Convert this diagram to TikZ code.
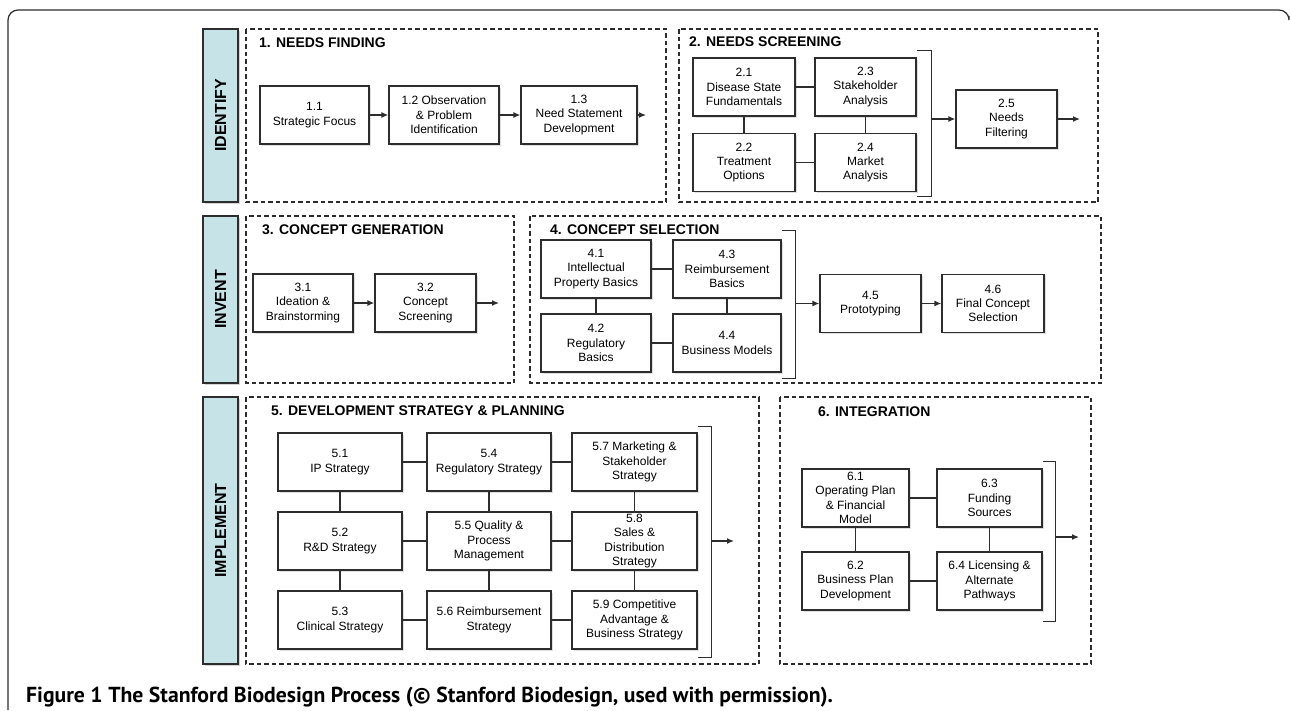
\documentclass[tikz,border=0pt]{standalone}
\usepackage{fontspec}
\setmainfont{Liberation Sans}
\newfontfamily\capfont{PT Sans}
\usetikzlibrary{arrows.meta,positioning,shapes,shadows}

\definecolor{barblue}{RGB}{198,228,232}
\definecolor{edgegray}{RGB}{45,45,45}

\begin{document}
\begin{tikzpicture}[x = 1pt, y = -1pt,
  stepbox/.style = {draw = edgegray, line width = 1.3pt, fill = white, align = center,
    inner sep = 0pt, minimum height = 58pt, font = \fontsize{12}{14.3}\selectfont,
    drop shadow = {shadow xshift = 1.5pt, shadow yshift = -1.5pt, opacity = .25}},
  phasebar/.style = {draw = edgegray, line width = 1.3pt, fill = barblue, rotate = 90,
    inner sep = 0pt, minimum height = 35pt, font = \fontsize{16}{18}\bfseries,
    drop shadow = {shadow xshift = 1.5pt, shadow yshift = -1.5pt, opacity = .35}},
  stage/.style = {draw = edgegray, line width = 1.2pt, dash pattern = on 4.5pt off 3pt},
  stagetitle/.style = {anchor = west, inner sep = 0pt, font = \fontsize{14}{16}\bfseries},
  link/.style = {draw = edgegray, line width = 1.3pt},
  flow/.style = {link, -{Latex[length = 7pt, width = 6pt]}}]
\useasboundingbox (0,0) rectangle (1290,710);
% outer frame
\draw[edgegray, line width = 1.2pt, rounded corners = 10pt] (8,710) -- (8,10) -- (1289,10) -- (1289,16);

% phase bars
\node[phasebar, minimum width = 173pt] (identify) at (220.5,115.5) {IDENTIFY};
\node[phasebar, minimum width = 167pt] (invent) at (220.5,299.5) {INVENT};
\node[phasebar, minimum width = 267pt] (implement) at (220.5,530.5) {IMPLEMENT};

% stage frames
\draw[stage] (246,29) rectangle (666,202);
\draw[stage] (679,29) rectangle (1098,202);
\draw[stage] (246,216) rectangle (514,383);
\draw[stage] (530,216) rectangle (1101,383);
\draw[stage] (246,397) rectangle (759,664);
\draw[stage] (780,397) rectangle (1091,664);

\node[stagetitle] (t1) at (259,43) {1. NEEDS FINDING};
\node[stagetitle] (t2) at (689,42) {2. NEEDS SCREENING};
\node[stagetitle] (t3) at (262,230) {3. CONCEPT GENERATION};
\node[stagetitle] (t4) at (550,230) {4. CONCEPT SELECTION};
\node[stagetitle] (t5) at (271,411) {5. DEVELOPMENT STRATEGY \& PLANNING};
\node[stagetitle] (t6) at (818,412) {6. INTEGRATION};

% 1. needs finding
\node[stepbox, minimum width = 109pt] (n11) at (314.5,115) {1.1\\Strategic Focus};
\node[stepbox, minimum width = 110pt] (n12) at (444,115) {1.2 Observation\\\& Problem\\Identification};
\node[stepbox, minimum width = 116pt] (n13) at (579,115) {1.3\\Need Statement\\Development};
\coordinate (o1) at (646,115);
\draw[flow] (n11) -- (n12);
\draw[flow] (n12) -- (n13);
\draw[flow] (n13) -- (o1);

% 2. needs screening
\node[stepbox, minimum width = 102pt] (n21) at (744,87) {2.1\\Disease State\\Fundamentals};
\node[stepbox, minimum width = 102pt] (n22) at (744,162.5) {2.2\\Treatment\\Options};
\node[stepbox, minimum width = 101pt] (n23) at (865.5,87) {2.3\\Stakeholder\\Analysis};
\node[stepbox, minimum width = 101pt] (n24) at (865.5,162.5) {2.4\\Market\\Analysis};
\node[stepbox, minimum width = 101pt] (n25) at (1006.5,119) {2.5\\Needs\\Filtering};
\coordinate (o2) at (1080,119);
\draw[link] (n21) -- (n23);
\draw[link] (n22) -- (n24);
\draw[link] (n21) -- (n22);
\draw[link] (n23) -- (n24);
\draw[link] ([yshift = 7pt]n23.north east) -- ++(15pt,0) coordinate (b2) |- ([yshift = -4pt]n24.south east);
\draw[flow] (b2 |- n25) -- (n25);
\draw[flow] (n25) -- (o2);

% 3. concept generation
\node[stepbox, minimum width = 100pt] (n31) at (303,303) {3.1\\Ideation \&\\Brainstorming};
\node[stepbox, minimum width = 101pt] (n32) at (425.5,303) {3.2\\Concept\\Screening};
\coordinate (o3) at (499,303);
\draw[flow] (n31) -- (n32);
\draw[flow] (n32) -- (o3);

% 4. concept selection
\node[stepbox, minimum width = 110pt] (n41) at (596,269) {4.1\\Intellectual\\Property Basics};
\node[stepbox, minimum width = 110pt] (n42) at (596,343) {4.2\\Regulatory\\Basics};
\node[stepbox, minimum width = 108pt] (n43) at (727,269) {4.3\\Reimbursement\\Basics};
\node[stepbox, minimum width = 108pt] (n44) at (727,343) {4.4\\Business Models};
\node[stepbox, minimum width = 101pt] (n45) at (870.5,303.5) {4.5\\Prototyping};
\node[stepbox, minimum width = 102pt] (n46) at (993,303.5) {4.6\\Final Concept\\Selection};
\draw[link] (n41) -- (n43);
\draw[link] (n42) -- (n44);
\draw[link] (n41) -- (n42);
\draw[link] (n43) -- (n44);
\draw[link] ([yshift = 9pt]n43.north east) -- ++(14pt,0) coordinate (b4) |- ([yshift = -6pt]n44.south east);
\draw[flow] (b4 |- n45) -- (n45);
\draw[flow] (n45) -- (n46);

% 5. development strategy & planning
\node[stepbox, minimum width = 124pt] (n51) at (340,462) {5.1\\IP Strategy};
\node[stepbox, minimum width = 124pt] (n52) at (340,541) {5.2\\R\&D Strategy};
\node[stepbox, minimum width = 124pt] (n53) at (340,620) {5.3\\Clinical Strategy};
\node[stepbox, minimum width = 124pt] (n54) at (489,462) {5.4\\Regulatory Strategy};
\node[stepbox, minimum width = 124pt] (n55) at (489,541) {5.5 Quality \&\\Process\\Management};
\node[stepbox, minimum width = 124pt] (n56) at (489,620) {5.6 Reimbursement\\Strategy};
\node[stepbox, minimum width = 125pt] (n57) at (634.5,462) {5.7 Marketing \&\\Stakeholder\\Strategy};
\node[stepbox, minimum width = 125pt] (n58) at (634.5,541) {5.8\\Sales \&\\Distribution\\Strategy};
\node[stepbox, minimum width = 125pt] (n59) at (634.5,620) {5.9 Competitive\\Advantage \&\\Business Strategy};
\foreach \a/\b in {n51/n54, n54/n57, n52/n55, n55/n58, n53/n56, n56/n59,
                   n51/n52, n52/n53, n54/n55, n55/n56, n57/n58, n58/n59}
  \draw[link] (\a) -- (\b);
\draw[link] ([yshift = 6pt]n57.north east) -- ++(14pt,0) coordinate (b5) |- ([yshift = -8pt]n59.south east);
\coordinate (o5) at (734,541);
\draw[flow] (b5 |- o5) -- (o5);

% 6. integration
\node[stepbox, minimum width = 107pt] (n61) at (855.5,498) {6.1\\Operating Plan\\\& Financial\\Model};
\node[stepbox, minimum width = 107pt] (n62) at (855.5,581) {6.2\\Business Plan\\Development};
\node[stepbox, minimum width = 105pt] (n63) at (989.5,498) {6.3\\Funding\\Sources};
\node[stepbox, minimum width = 105pt] (n64) at (989.5,581) {6.4 Licensing \&\\Alternate\\Pathways};
\draw[link] (n61) -- (n63);
\draw[link] (n62) -- (n64);
\draw[link] (n61) -- (n62);
\draw[link] (n63) -- (n64);
\draw[link] ([yshift = 7pt]n63.north east) -- ++(13pt,0) coordinate (b6) |- ([yshift = -11pt]n64.south east);
\coordinate (o6) at (1079,537);
\draw[flow] (b6 |- o6) -- (o6);

% caption
\node[anchor = base west, inner sep = 0pt, font = \capfont\fontsize{21.7}{25}\selectfont\bfseries] (caption) at (26,702)
  {Figure 1 The Stanford Biodesign Process (© Stanford Biodesign, used with permission).};
\end{tikzpicture}
\end{document}
